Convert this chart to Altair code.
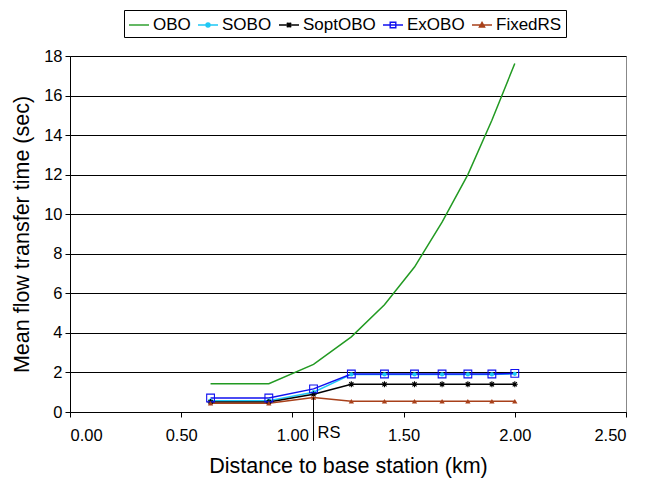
import altair as alt
import pandas as pd

# distances (km)
dist = [0.632, 0.894, 1.095, 1.265, 1.414, 1.549, 1.673, 1.789, 1.897, 2.000]
series_names = ["OBO", "SOBO", "SoptOBO", "ExOBO", "FixedRS"]
obo = [1.43, 1.43, 2.41, 3.80, 5.42, 7.33, 9.60, 12.00, 14.75, 17.62]
sobo = [0.57, 0.57, 1.00, 1.90, 1.90, 1.90, 1.90, 1.90, 1.90, 1.93]
soptobo = [0.50, 0.50, 0.90, 1.40, 1.40, 1.40, 1.40, 1.40, 1.40, 1.40]
exobo = [0.71, 0.71, 1.17, 1.92, 1.92, 1.92, 1.92, 1.92, 1.92, 1.95]
fixedrs = [0.44, 0.44, 0.73, 0.54, 0.54, 0.54, 0.54, 0.54, 0.54, 0.54]
colors = ["#229A22", "#1EC8F5", "#000000", "#1010F0", "#A8401A"]

rs_x = 1.095
rs_y = 0.73

values = [obo, sobo, soptobo, exobo, fixedrs]
rows = []
for name, vals in zip(series_names, values):
    for d, v in zip(dist, vals):
        rows.append({"series": name, "x": d, "y": v})
df = pd.DataFrame(rows)

FONT = "Liberation Sans"

asterisk = "M-1,0L1,0M0,-1L0,1M-0.7,-0.7L0.7,0.7M-0.7,0.7L0.7,-0.7"
leg_paths = [
    "M-1,0H1",
    "M-1,0H1M-0.2,0A0.2,0.2 0 1,0 0.2,0A0.2,0.2 0 1,0 -0.2,0Z",
    "M-1,0H1M-0.22,-0.22L0.22,0.22M-0.22,0.22L0.22,-0.22M0,-0.25V0.25",
    "M-1,0H1M-0.28,-0.28H0.28V0.28H-0.28Z",
    "M-1,0H1M0,-0.26L0.26,0.2H-0.26Z",
]
leg_fills = ["transparent", "#1EC8F5", "transparent", "transparent", "#A8401A"]

legend = alt.Legend(
    title=None, orient="none", direction="horizontal", legendX=54, legendY=-46,
    labelFont=FONT, labelFontSize=17, labelColor="black",
    symbolSize=400, symbolStrokeWidth=1.4, columnPadding=4, labelOffset=3,
    strokeColor="black", fillColor="white", padding=4,
    symbolOpacity=1,
)

color = alt.Color("series:N", scale=alt.Scale(domain=series_names, range=colors),
                  legend=legend, sort=series_names)

xenc = alt.X("x:Q", scale=alt.Scale(domain=[0, 2.5], nice=False),
             axis=alt.Axis(values=[0, 0.5, 1.0, 1.5, 2.0, 2.5], format=".2f",
                           title="Distance to base station (km)", grid=False,
                           labelPadding=10, titlePadding=12))
yenc = alt.Y("y:Q", scale=alt.Scale(domain=[0, 18], nice=False),
             axis=alt.Axis(values=[0, 2, 4, 6, 8, 10, 12, 14, 16, 18], tickCount=10,
                           title="Mean flow transfer time (sec)",
                           labelPadding=3, titlePadding=10))

legend_layer = alt.Chart(df).mark_point(opacity=0).encode(
    x=xenc, y=yenc, color=color,
    shape=alt.Shape("series:N", scale=alt.Scale(domain=series_names, range=leg_paths),
                    legend=legend, sort=series_names),
    fill=alt.Fill("series:N", scale=alt.Scale(domain=series_names, range=leg_fills),
                  legend=legend, sort=series_names),
)

lines = alt.Chart(df).mark_line(strokeWidth=1.5).encode(
    x=xenc, y=yenc, color=color, order="x:Q")

marker_specs = [
    ("SOBO", "circle", True, 18, colors[1]),
    ("SoptOBO", asterisk, False, 36, colors[2]),
    ("ExOBO", "square", False, 60, colors[3]),
    ("FixedRS", "triangle-up", True, 28, colors[4]),
]
point_layers = []
for name, shp, filled, sz, col in marker_specs:
    point_layers.append(
        alt.Chart(df).transform_filter(alt.datum.series == name).mark_point(
            shape=shp, filled=filled, size=sz, color=col, strokeWidth=1.1, opacity=1
        ).encode(x=xenc, y=yenc)
    )

rs_df = pd.DataFrame({"x": [rs_x], "y": [rs_y], "label": ["RS"]})
rs_rule = alt.Chart(rs_df).mark_rule(color="black", strokeWidth=1, clip=False).encode(
    x=xenc, y=yenc, y2=alt.value(385))
rs_text = alt.Chart(rs_df).mark_text(align="left", baseline="middle", dx=4,
                                     font=FONT, fontSize=16.5, color="black").encode(
    x=xenc, y=alt.value(377), text="label:N")

chart = alt.layer(legend_layer, lines, *point_layers, rs_rule, rs_text).properties(
    width=556, height=356,
    autosize=alt.AutoSizeParams(type="none"),
    padding={"left": 62, "top": 48, "right": 12, "bottom": 66},
).configure_view(stroke="#888888", strokeWidth=1
).configure_axis(
    labelFont=FONT, labelFontSize=16.5, labelColor="black",
    titleFont=FONT, titleFontSize=21.5, titleFontWeight="normal", titleColor="black",
    domainColor="black", tickColor="black", gridColor="black", gridWidth=1,
    tickSize=5,
)

chart.save("out.html", embed_options={"renderer": "svg", "actions": False})
